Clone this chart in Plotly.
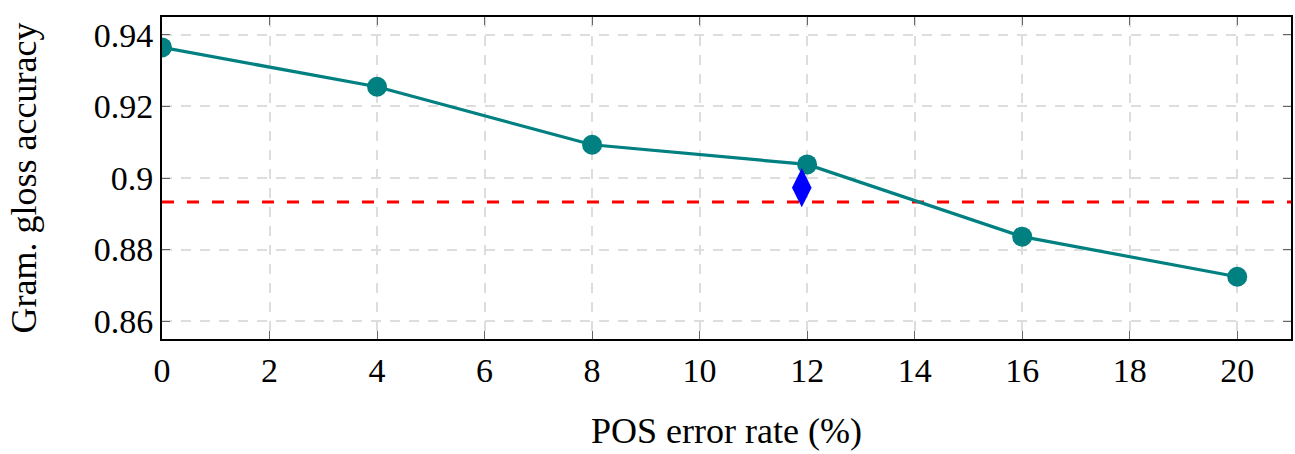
import plotly.graph_objects as go

x_err = [0, 4, 8, 12, 16, 20]
acc = [0.9365, 0.9255, 0.9093, 0.9038, 0.8836, 0.8724]
diamond_x = [11.9]
diamond_y = [0.8973]
baseline = 0.8933
x_ticks = [0, 2, 4, 6, 8, 10, 12, 14, 16, 18, 20]
y_ticks = [0.86, 0.88, 0.90, 0.92, 0.94]
y_tick_text = ["0.86", "0.88", "0.9", "0.92", "0.94"]

font_family = "Liberation Serif, DejaVu Serif, serif"

fig = go.Figure()
fig.add_trace(go.Scatter(x=[0, 21], y=[baseline, baseline], mode="lines",
                         line=dict(color="#ff0000", width=3, dash="12px,13px"),
                         showlegend=False, hoverinfo="skip"))
fig.add_trace(go.Scatter(x=x_err, y=acc, mode="lines+markers",
                         line=dict(color="#008080", width=3.2),
                         marker=dict(color="#008080", size=20, symbol="circle"),
                         showlegend=False))
fig.add_trace(go.Scatter(x=diamond_x, y=diamond_y, mode="markers",
                         marker=dict(color="#0000ff", size=28, symbol="diamond-tall"),
                         showlegend=False))

fig.update_layout(
    width=1295, height=454,
    margin=dict(l=162, r=2, t=17, b=115),
    paper_bgcolor="white", plot_bgcolor="white",
    font=dict(family=font_family, size=34, color="black"),
)
fig.update_xaxes(
    range=[0, 21], tickvals=x_ticks, ticks="inside", ticklen=8, tickcolor="#666",
    showgrid=True, gridcolor="#dddddd", griddash="10px,9px", gridwidth=1.5,
    showline=True, linecolor="black", linewidth=2, mirror="allticks",
    zeroline=False, tickfont=dict(size=34),
    title=dict(text="POS error rate (%)", font=dict(size=36), standoff=30),
)
fig.update_yaxes(
    range=[0.855, 0.945], tickvals=y_ticks, ticktext=y_tick_text,
    ticks="inside", ticklen=8, tickcolor="#666",
    showgrid=True, gridcolor="#dddddd", griddash="10px,9px", gridwidth=1.5,
    showline=True, linecolor="black", linewidth=2, mirror="allticks",
    zeroline=False, tickfont=dict(size=34),
    title=dict(text="Gram. gloss accuracy", font=dict(size=36), standoff=46),
)
fig.write_html("out.html")
